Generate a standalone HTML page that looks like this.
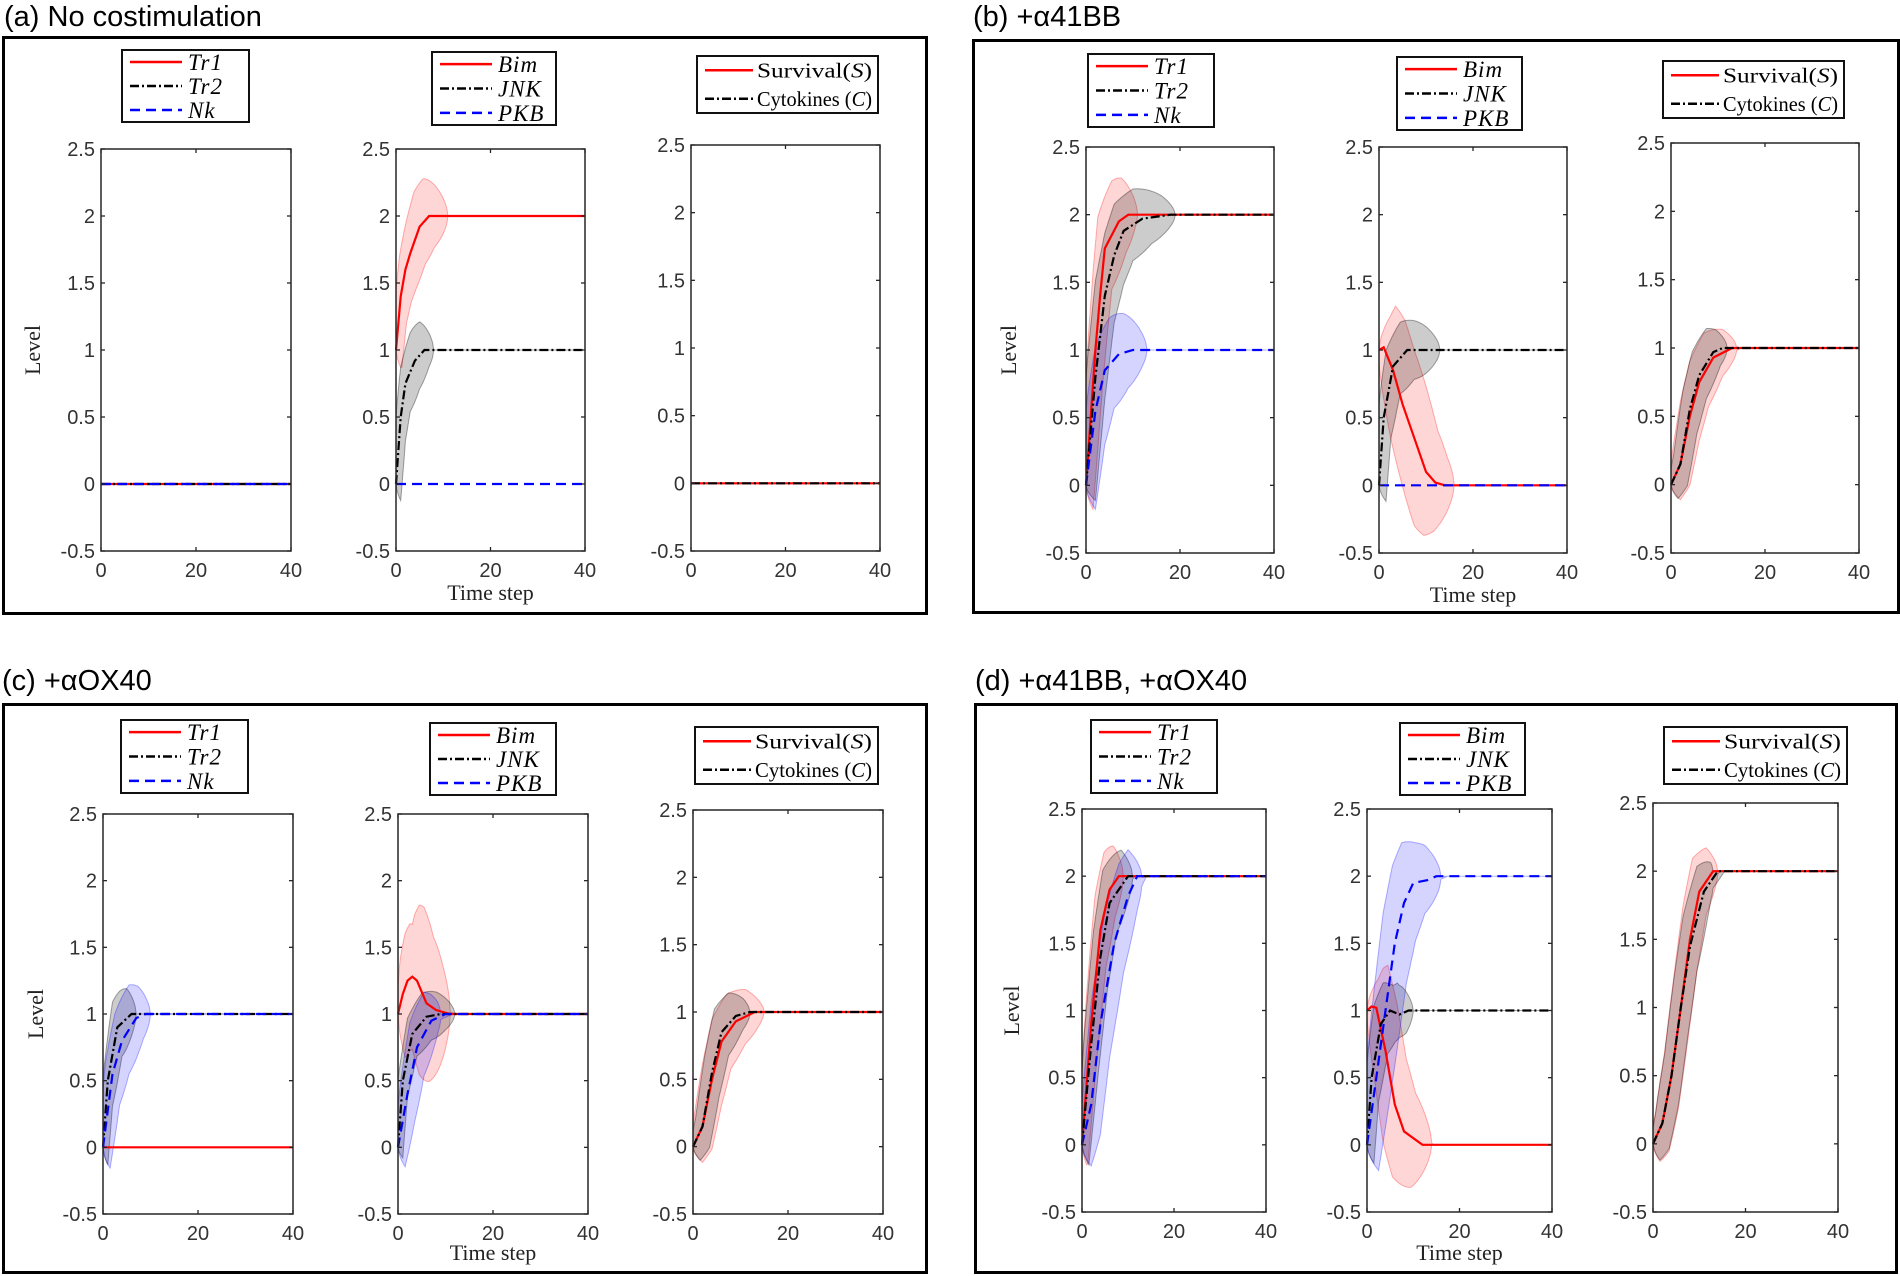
<!DOCTYPE html>
<html><head><meta charset="utf-8"><style>
html,body{margin:0;padding:0;background:#fff;}
svg{display:block;}
</style></head><body>
<svg id="s" width="1900" height="1276" xmlns="http://www.w3.org/2000/svg"></svg>
<script>
const S=document.getElementById('s');
let out='';
const COL={r:'#ff0000',k:'#000000',b:'#0000ff'};
const FILL={r:'rgba(255,0,0,0.16)',k:'rgba(0,0,0,0.2)',b:'rgba(0,0,255,0.17)'};
const EDGE={r:'rgba(255,0,0,0.3)',k:'rgba(0,0,0,0.35)',b:'rgba(0,0,255,0.3)'};
const DASH={r:'',k:'9,3,2,3',b:'10,6'};
function interp(pts,t){
  if(t<=pts[0][0])return pts[0][1];
  for(let i=1;i<pts.length;i++){if(t<=pts[i][0]){const [t0,v0]=pts[i-1],[t1,v1]=pts[i];return v0+(v1-v0)*(t-t0)/(t1-t0);}}
  return pts[pts.length-1][1];
}
function sub(ax,series){
  const [xl,xr,yt,yb]=ax;
  const X=t=>xl+(xr-xl)*t/40, Y=v=>yb-(yb-yt)*(v+0.5)/3;
  series.forEach(se=>{
    if(!se.a&&!se.s)return;
    const up=[],lo=[];
    for(let t=0;t<=40;t+=0.25){
      const f1=interp(se.p,Math.max(0,t-se.s)),f2=interp(se.p,t+se.s);
      const g=t<se.T?Math.pow(Math.sin(Math.PI*Math.min(1,t/se.T)),0.6):0;
      up.push([X(t),Y(Math.max(f1,f2)+se.a*g)]);lo.push([X(t),Y(Math.min(f1,f2)-se.a*g)]);
    }
    const d='M'+up.map(p=>p[0].toFixed(1)+','+p[1].toFixed(1)).join('L')+'L'+lo.reverse().map(p=>p[0].toFixed(1)+','+p[1].toFixed(1)).join('L')+'Z';
    out+=`<path d="${d}" fill="${FILL[se.c]}" stroke="${EDGE[se.c]}" stroke-width="1"/>`;
  });
  series.forEach(se=>{
    const pts=se.p.concat([[40,se.p[se.p.length-1][1]]]);
    out+=`<polyline points="${pts.map(p=>X(p[0]).toFixed(1)+','+Y(p[1]).toFixed(1)).join(' ')}" fill="none" stroke="${COL[se.c]}" stroke-width="2.2" ${DASH[se.c]?`stroke-dasharray="${DASH[se.c]}"`:''}/>`;
  });
  out+=`<rect x="${xl}" y="${yt}" width="${xr-xl}" height="${yb-yt}" fill="none" stroke="#262626" stroke-width="1.5"/>`;
  for(let i=0;i<=6;i++){const v=-0.5+i*0.5,y=Y(v);
    out+=`<line x1="${xl}" x2="${xl+4}" y1="${y}" y2="${y}" stroke="#262626" stroke-width="1.3"/><line x1="${xr}" x2="${xr-4}" y1="${y}" y2="${y}" stroke="#262626" stroke-width="1.3"/>`;
    out+=`<text x="${xl-6}" y="${y+7}" text-anchor="end" font-family="Liberation Sans, sans-serif" font-size="20" fill="#333">${v}</text>`;}
  [0,20,40].forEach(t=>{const x=X(t);
    out+=`<line x1="${x}" x2="${x}" y1="${yb}" y2="${yb-4}" stroke="#262626" stroke-width="1.3"/><line x1="${x}" x2="${x}" y1="${yt}" y2="${yt+4}" stroke="#262626" stroke-width="1.3"/>`;
    out+=`<text x="${x}" y="${yb+26}" text-anchor="middle" font-family="Liberation Sans, sans-serif" font-size="20" fill="#333">${t}</text>`;});
}
function legend(b,names,small){
  const [x1,x2,y1,y2]=b;
  out+=`<rect x="${x1}" y="${y1}" width="${x2-x1}" height="${y2-y1}" fill="#fff" stroke="#111" stroke-width="2"/>`;
  const n=names.length, step=(y2-y1)/n, cs=['r','k','b'];
  names.forEach((nm,i)=>{const y=y1+step*(i+0.5);
    const L=small?48:52;
    out+=`<line x1="${x1+8}" x2="${x1+8+L}" y1="${y}" y2="${y}" stroke="${COL[cs[i]]}" stroke-width="2.5" ${DASH[cs[i]]?`stroke-dasharray="${DASH[cs[i]]}"`:''}/>`;
    if(small) out+=`<text x="${x1+60}" y="${y+7}" font-family="Liberation Serif, serif" font-size="21" textLength="${x2-x1-66}" lengthAdjust="spacingAndGlyphs">${nm}</text>`;
    else out+=`<text x="${x1+66}" y="${y+8}" font-family="Liberation Serif, serif" font-style="italic" font-size="23" letter-spacing="1">${nm}</text>`;
  });
}
function panel(P){
  const [bx1,by1,bx2,by2]=P.box;
  out+=`<rect x="${bx1+1.5}" y="${by1+1.5}" width="${bx2-bx1-3}" height="${by2-by1-3}" fill="none" stroke="#000" stroke-width="3"/>`;
  out+=`<text x="${P.title[0]}" y="${P.title[1]}" font-family="Liberation Sans, sans-serif" font-size="29" fill="#000">${P.title[2]}</text>`;
  P.axes.forEach((a,i)=>sub(a,P.ser[i]));
  legend(P.leg[0],['Tr1','Tr2','Nk']);
  legend(P.leg[1],['Bim','JNK','PKB']);
  legend(P.leg[2],['Survival(<tspan font-style="italic">S</tspan>)','Cytokines (<tspan font-style="italic">C</tspan>)'],true);
  const a0=P.axes[0],a1=P.axes[1];
  const ly=(a0[2]+a0[3])/2;
  out+=`<text x="${P.lvl}" y="${ly}" transform="rotate(-90 ${P.lvl} ${ly})" text-anchor="middle" dominant-baseline="middle" font-family="Liberation Serif, serif" font-size="22" fill="#222">Level</text>`;
  out+=`<text x="${(a1[0]+a1[1])/2}" y="${P.ts}" text-anchor="middle" font-family="Liberation Serif, serif" font-size="22" fill="#222">Time step</text>`;
}
const Z=c=>({c,p:[[0,0]],s:0,a:0,T:0});
panel({box:[2,36,928,615],title:[4,26,'(a) No costimulation'],
 axes:[[101,291,149,551],[396,585,149,551],[691,880,145,551]],
 leg:[[122,249,50,122],[432,556,52,125],[697,878,56,113]],lvl:35,ts:600,
 ser:[[Z('r'),Z('k'),Z('b')],
  [{c:'r',p:[[0,1],[1,1.4],[2,1.6],[3,1.72],[5,1.92],[7,2],[9,2]],s:1.2,a:0.28,T:11},
   {c:'k',p:[[0,0],[1,0.5],[2,0.75],[4,0.92],[6,1]],s:1,a:0.22,T:8},Z('b')],
  [Z('r'),Z('k')]]});
panel({box:[972,39,1900,614],title:[973,26,'(b) +α41BB'],
 axes:[[1086,1274,147,553],[1379,1567,147,553],[1671,1859,143,553]],
 leg:[[1088,1214,54,127],[1397,1522,57,130],[1663,1844,61,118]],lvl:1011,ts:602,
 ser:[[{c:'r',p:[[0,0],[2,1],[3,1.4],[4,1.75],[7,1.95],[9,2]],s:1.5,a:0.3,T:11},
   {c:'k',p:[[0,0],[2,0.8],[4,1.4],[6,1.7],[8,1.88],[12,1.97],[18,2]],s:2,a:0.22,T:19},
   {c:'b',p:[[0,0],[2,0.55],[4,0.85],[7,0.97],[10,1]],s:2,a:0.28,T:13}],
  [{c:'r',p:[[0,1],[1,1.02],[3,0.85],[5,0.6],[8,0.3],[10,0.1],[12,0.02],[14,0]],s:2.5,a:0.4,T:16},
   {c:'k',p:[[0,0],[1,0.5],[3,0.88],[6,1],[40,1]],s:1.5,a:0.22,T:13},Z('b')],
  [{c:'r',p:[[0,0],[2,0.15],[4,0.5],[6,0.75],[9,0.93],[13,1]],s:2,a:0.18,T:14},
   {c:'k',p:[[0,0],[2,0.15],[4,0.55],[6,0.8],[9,0.97],[11,1]],s:1.5,a:0.18,T:12}]]});
panel({box:[2,703,928,1274],title:[2,690,'(c) +αOX40'],
 axes:[[103,293,814,1214],[398,588,814,1214],[693,883,810,1214]],
 leg:[[121,248,720,793],[430,556,723,795],[695,878,727,784]],lvl:38,ts:1260,
 ser:[[Z('r'),
   {c:'k',p:[[0,0],[1,0.5],[3,0.9],[6,1]],s:1,a:0.22,T:7},
   {c:'b',p:[[0,0],[2,0.55],[4,0.8],[7,0.97],[9,1]],s:1.5,a:0.25,T:10}],
  [{c:'r',p:[[0,1],[1,1.15],[2,1.25],[3,1.28],[4,1.25],[6,1.08],[8,1.03],[11,1]],s:1.5,a:0.55,T:11},
   {c:'k',p:[[0,0],[1,0.5],[3,0.85],[6,0.98],[9,1]],s:1,a:0.18,T:12},
   {c:'b',p:[[0,0],[2,0.4],[4,0.75],[7,0.95],[10,1]],s:1.5,a:0.22,T:9}],
  [{c:'r',p:[[0,0],[2,0.15],[4,0.5],[6,0.78],[9,0.93],[13,1]],s:2,a:0.2,T:15},
   {c:'k',p:[[0,0],[2,0.15],[4,0.55],[6,0.85],[9,0.97],[12,1]],s:1.5,a:0.18,T:12}]]});
panel({box:[974,703,1898,1274],title:[975,690,'(d) +α41BB, +αOX40'],
 axes:[[1082,1266,809,1212],[1367,1552,809,1212],[1653,1838,803,1212]],
 leg:[[1091,1217,720,793],[1400,1525,723,795],[1664,1847,727,784]],lvl:1014,ts:1260,
 ser:[[{c:'r',p:[[0,0],[2,0.9],[4,1.6],[6,1.9],[8,2]],s:1.2,a:0.28,T:9},
   {c:'k',p:[[0,0],[2,0.75],[4,1.4],[6,1.8],[10,2]],s:1.5,a:0.25,T:11},
   {c:'b',p:[[0,0],[2,0.3],[4,0.9],[7,1.5],[10,1.85],[12,2]],s:2,a:0.25,T:13}],
  [{c:'r',p:[[0,1],[1,1.03],[2,1.02],[4,0.7],[6,0.3],[8,0.1],[12,0]],s:2.5,a:0.35,T:14},
   {c:'k',p:[[0,0],[1,0.5],[3,0.9],[5,1],[7,0.97],[9,1]],s:1.5,a:0.22,T:10},
   {c:'b',p:[[0,0],[2,0.5],[4,1],[6,1.5],[8,1.8],[10,1.95],[13,1.97],[15,2]],s:2.5,a:0.3,T:16}],
  [{c:'r',p:[[0,0],[2,0.15],[4,0.5],[6,1],[8,1.5],[10,1.85],[13,2]],s:1.5,a:0.25,T:14},
   {c:'k',p:[[0,0],[2,0.15],[4,0.5],[6,1],[8,1.45],[11,1.85],[14,2]],s:1.5,a:0.22,T:13}]]});
S.innerHTML=out;
</script>
</body></html>
